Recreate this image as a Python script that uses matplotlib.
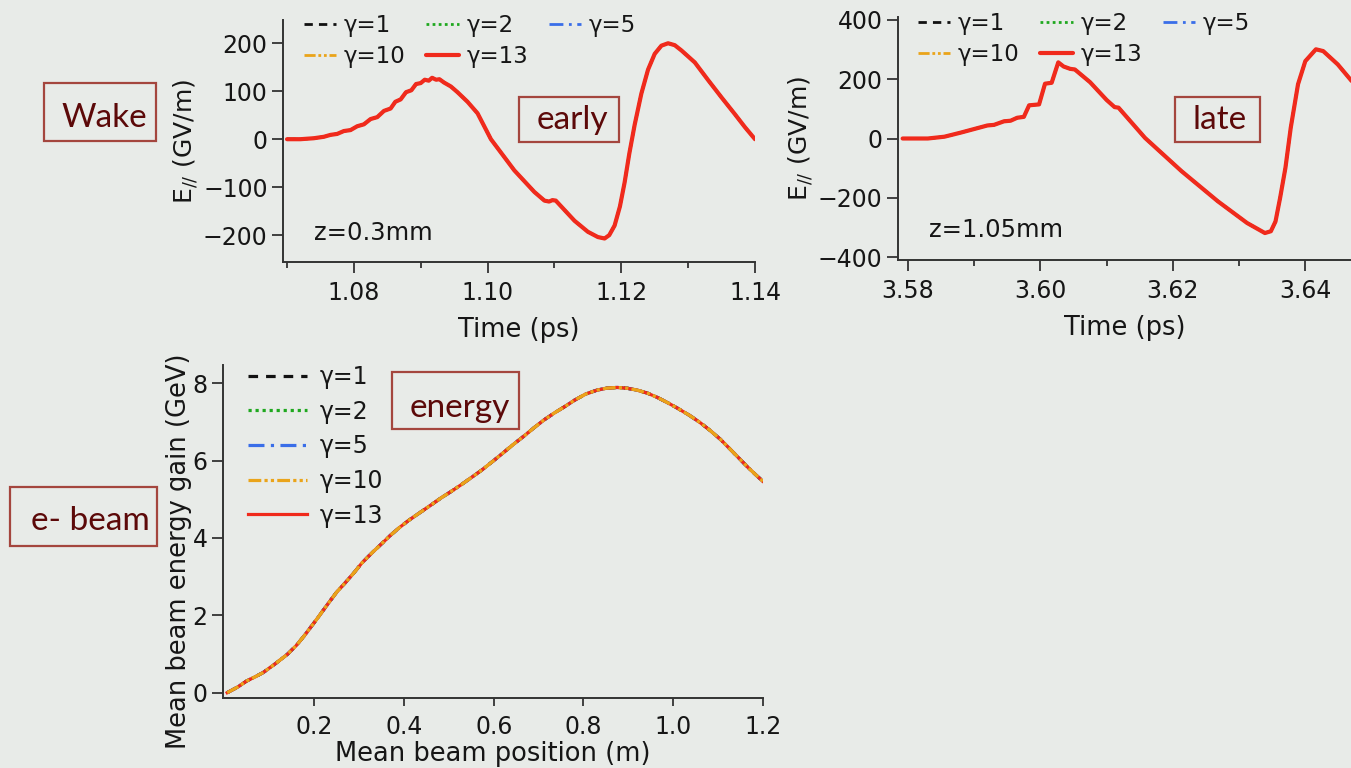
import matplotlib
matplotlib.use("Agg")
import matplotlib.pyplot as plt
from matplotlib.patches import Rectangle
from matplotlib.ticker import MultipleLocator

# ---------------- data ----------------
gamma_labels = ['γ=1', 'γ=2', 'γ=5', 'γ=10', 'γ=13']
gamma_colors = ['#111111', '#1fa81f', '#3a6ee8', '#eaa41a', '#f02a1c']

# early wake (z = 0.3 mm)
early_t = [1.0700, 1.0720, 1.0740, 1.0755, 1.0765, 1.0775, 1.0785, 1.0795, 1.0805,
           1.0815, 1.0825, 1.0835, 1.0845, 1.0855, 1.0862, 1.0870, 1.0878, 1.0886,
           1.0893, 1.0900, 1.0906, 1.0912, 1.0917, 1.0923, 1.0928, 1.0935, 1.0945,
           1.0955, 1.0970, 1.0985, 1.1005, 1.1040, 1.1070, 1.1085, 1.1092, 1.1097,
           1.1102, 1.1110, 1.1130, 1.1150, 1.1165, 1.1175, 1.1182, 1.1190, 1.1198,
           1.1205, 1.1212, 1.1220, 1.1230, 1.1240, 1.1250, 1.1260, 1.1270, 1.1280,
           1.1290, 1.1310, 1.1330, 1.1350, 1.1370, 1.1385, 1.1400]
early_E = [0, 0, 2, 5, 9, 11, 17, 19, 27,
           31, 42, 46, 59, 64, 78, 83, 98, 102,
           115, 117, 124, 122, 128, 124, 125, 118, 110,
           98, 78, 54, 0, -65, -110, -128, -130, -127,
           -128, -140, -170, -193, -204, -207, -200, -180, -140,
           -90, -30, 30, 95, 145, 178, 195, 200, 196,
           185, 160, 123, 87, 52, 25, 0]

# late wake (z = 1.05 mm)
late_t = [3.5792, 3.5830, 3.5855, 3.5880, 3.5905, 3.5920, 3.5930, 3.5945, 3.5955,
          3.5965, 3.5975, 3.5983, 3.5998, 3.6007, 3.6017, 3.6027, 3.6035, 3.6045,
          3.6052, 3.6075, 3.6100, 3.6105, 3.6112, 3.6118, 3.6158, 3.6213, 3.6268,
          3.6312, 3.6339, 3.6348, 3.6355, 3.6362, 3.6370, 3.6378, 3.6389, 3.6400,
          3.6416, 3.6427, 3.6449, 3.6470]
late_E = [0, 0, 6, 20, 35, 44, 46, 58, 60,
          70, 73, 112, 115, 185, 188, 257, 243, 235,
          233, 190, 130, 120, 106, 104, 2, -110, -212,
          -285, -319, -313, -280, -200, -99, 36, 183, 261,
          301, 295, 250, 194]

# beam energy gain vs position
pos_m = [0.006, 0.030, 0.049, 0.070, 0.086, 0.110, 0.140, 0.160, 0.177, 0.205,
         0.232, 0.250, 0.269, 0.290, 0.306, 0.330, 0.352, 0.370, 0.389, 0.410,
         0.435, 0.460, 0.482, 0.505, 0.528, 0.550, 0.574, 0.600, 0.620, 0.645,
         0.666, 0.690, 0.712, 0.735, 0.759, 0.780, 0.805, 0.830, 0.851, 0.875,
         0.897, 0.920, 0.943, 0.965, 0.990, 1.010, 1.036, 1.060, 1.082, 1.105,
         1.128, 1.150, 1.165, 1.185, 1.200]
gain_GeV = [0.00, 0.15, 0.30, 0.42, 0.52, 0.72, 0.99, 1.22, 1.46, 1.89,
            2.32, 2.60, 2.84, 3.12, 3.35, 3.63, 3.87, 4.07, 4.26, 4.45,
            4.65, 4.85, 5.03, 5.20, 5.38, 5.56, 5.76, 6.00, 6.19, 6.43,
            6.62, 6.85, 7.05, 7.23, 7.40, 7.56, 7.72, 7.82, 7.87, 7.89,
            7.87, 7.82, 7.74, 7.63, 7.48, 7.35, 7.17, 6.98, 6.78, 6.55,
            6.28, 6.02, 5.84, 5.62, 5.46]

# ---------------- layout ----------------
W, H = 1351, 768
BG = '#e8ebe8'
SPINE = '#333333'
FONT = 'DejaVu Sans'

plt.rcParams['font.family'] = [FONT]
plt.rcParams['mathtext.fontset'] = 'dejavusans'

fig = plt.figure(figsize=(W / 100, H / 100), dpi=100, facecolor=BG)


def axes_px(left, top, right, bottom):
    ax = fig.add_axes([left / W, 1 - bottom / H, (right - left) / W, (bottom - top) / H])
    ax.set_facecolor('none')
    for s in ('top', 'right'):
        ax.spines[s].set_visible(False)
    for s in ('left', 'bottom'):
        ax.spines[s].set_color(SPINE)
        ax.spines[s].set_linewidth(1.4)
    ax.tick_params(which='both', direction='out', color=SPINE, width=1.3,
                   labelcolor='#161616', labelsize=17)
    ax.tick_params(which='major', length=8)
    ax.tick_params(which='minor', length=4.5)
    ax.tick_params(axis='x', pad=6)
    ax.tick_params(axis='y', pad=3)
    return ax


dash_top = [(0, (3, 2.2)), (0, (1, 1.2)), (0, (5, 2, 1, 2)), (0, (4, 1, 1, 1, 1, 1)), '-']
dash_bot = [(0, (3, 2.5)), (0, (1, 1.2)), (0, (5, 2, 1, 2)), (0, (4, 1, 1, 1, 1, 1)), '-']


def wake_axes(left, top, right, bottom, t, E, xlim, ylim, ymaj, xlabels, zlabel, zpos, leg_px):
    ax = axes_px(left, top, right, bottom)
    handles = []
    for i, lab in enumerate(gamma_labels):
        lw = 3.0 if i == 4 else 2.0
        h, = ax.plot(t, E, color=gamma_colors[i], ls=dash_top[i], lw=lw,
                     label=lab, zorder=2 + i, solid_capstyle='round',
                     solid_joinstyle='round')
        handles.append(h)
    ax.set_xlim(*xlim)
    ax.set_ylim(*ylim)
    ax.xaxis.set_minor_locator(MultipleLocator(0.01))
    ax.yaxis.set_major_locator(MultipleLocator(ymaj))
    ax.set_xticks(xlabels)
    ax.set_xticklabels([f'{v:.2f}' for v in xlabels])
    ax.set_xlabel('Time (ps)', fontsize=18.5, color='#161616', labelpad=8)
    ax.set_ylabel('E$_{//}$ (GV/m)', fontsize=18, color='#161616', labelpad=2)
    ax.text(zpos[0], zpos[1], zlabel, transform=ax.transAxes, fontsize=17.5,
            color='#161616', va='center', ha='left')
    order = [0, 3, 1, 4, 2]
    leg = fig.legend([handles[k] for k in order], [gamma_labels[k] for k in order],
                     ncol=3, loc='upper left',
                     bbox_to_anchor=(leg_px[0] / W, 1 - leg_px[1] / H),
                     frameon=False, fontsize=16.5, handlelength=1.4, handletextpad=0.35,
                     columnspacing=0.9, labelspacing=0.36, borderpad=0, borderaxespad=0)
    for txt in leg.get_texts():
        txt.set_color('#161616')
    return ax


ax1 = wake_axes(283, 20, 755, 262, early_t, early_E, (1.0694, 1.14), (-256, 248.5), 100,
                [1.08, 1.10, 1.12, 1.14], 'z=0.3mm', (0.066, 0.12), (304, 14))
ax2 = wake_axes(898, 17, 1351, 260, late_t, late_E, (3.5785, 3.6469), (-410, 410), 200,
                [3.58, 3.60, 3.62, 3.64], 'z=1.05mm', (0.068, 0.123), (918, 12))

# bottom: energy gain
ax3 = axes_px(223, 365, 763, 698)
bot_order = [0, 1, 2, 4, 3]
bh = {}
for z, i in enumerate(bot_order):
    h, = ax3.plot(pos_m, gain_GeV, color=gamma_colors[i], ls=dash_bot[i], lw=2.3,
                  label=gamma_labels[i], zorder=2 + z, solid_joinstyle='round')
    bh[i] = h
ax3.set_xlim(-0.0033, 1.2)
ax3.set_ylim(-0.137, 8.47)
ax3.set_xticks([0.2, 0.4, 0.6, 0.8, 1.0, 1.2])
ax3.set_xticklabels(['0.2', '0.4', '0.6', '0.8', '1.0', '1.2'])
ax3.set_yticks([0, 2, 4, 6, 8])
ax3.tick_params(axis='x', length=6, pad=6)
ax3.set_xlabel('Mean beam position (m)', fontsize=18.5, color='#161616', labelpad=2)
ax3.set_ylabel('Mean beam energy gain (GeV)', fontsize=18.5, color='#161616')
ax3.yaxis.set_label_coords(-0.058, 0.44)
leg3 = fig.legend([bh[k] for k in range(5)], gamma_labels, loc='upper left',
                  bbox_to_anchor=(248 / W, 1 - 365 / H), frameon=False, fontsize=17,
                  handlelength=2.5, handletextpad=0.55, labelspacing=0.45,
                  borderpad=0, borderaxespad=0)
for txt in leg3.get_texts():
    txt.set_color('#161616')


# ---------------- boxed annotations ----------------
def boxed(text, x0, y0, x1, y1, tx, ty, size=24):
    fig.add_artist(Rectangle((x0 / W, 1 - y1 / H), (x1 - x0) / W, (y1 - y0) / H,
                             transform=fig.transFigure, fill=False,
                             edgecolor='#a4463e', lw=1.6, zorder=10))
    fig.text(tx / W, 1 - ty / H, text, ha='center', va='center', fontsize=size,
             color='#5c0909', family=['Lato', 'DejaVu Sans'], zorder=11)


boxed('Wake', 44, 83, 156, 141, 104, 118)
boxed('early', 519, 97, 619, 142, 572, 120)
boxed('late', 1175, 97, 1260, 142, 1220, 120)
boxed('energy', 392, 372, 519, 429, 460, 408)
boxed('e- beam', 10, 487, 157, 546, 90, 521)

fig.savefig('out.png', dpi=100, facecolor=BG)
